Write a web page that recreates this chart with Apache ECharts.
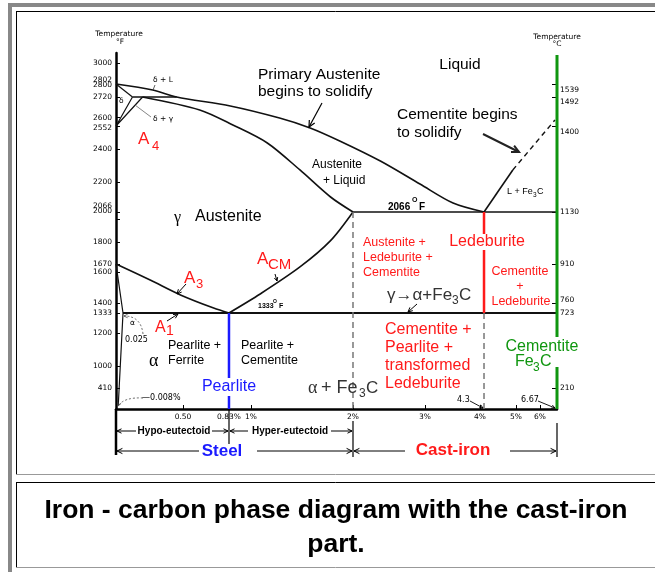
<!DOCTYPE html>
<html>
<head>
<meta charset="utf-8">
<script src="https://cdn.jsdelivr.net/npm/echarts@6/dist/echarts.min.js"></script>
<style>
  html, body { margin: 0; padding: 0; background: #fff; }
  #chart { width: 655px; height: 572px; }
</style>
</head>
<body>
<div id="chart"></div>
<script>
// ---- phase boundaries, carbon wt% / temperature °F ----
const liquidusC = [0, 0.26, 0.45, 0.84, 1.28, 1.58, 1.87, 2.38, 2.93, 3.51, 4.3];
const liquidusF = [2802, 2764, 2720, 2668, 2598, 2539, 2453, 2327, 2191, 2106, 2066];
const solidusC = [0.18, 0.62, 0.86, 1.16, 1.48, 1.78, 2.0];
const solidusF = [2720, 2645, 2558, 2440, 2273, 2133, 2066];
const deltaSolidusC = [0, 0.1];
const deltaSolidusF = [2802, 2720];
const deltaGammaC = [0.1, 0, 0.18];
const deltaGammaF = [2720, 2552, 2720];
const peritecticC = [0.1, 0.45];
const peritecticF = [2720, 2720];
const a3C = [0, 0.24, 0.48, 0.72, 0.83];
const a3F = [1670, 1548, 1452, 1366, 1333];
const acmC = [0.83, 1.09, 1.48, 1.78, 2.0];
const acmF = [1333, 1458, 1644, 1812, 2066];
const ferriteC = [0, 0.025, 0.008];
const ferriteF = [1670, 1333, 70];
const eutectoidC = [0.025, 6.67];
const eutectoidF = [1333, 1333];
const eutecticC = [2.0, 6.67];
const eutecticF = [2066, 2066];
const cementiteLiqC = [4.3, 4.93];
const cementiteLiqF = [2066, 2273];
const cementiteDashC = [4.93, 6.59];
const cementiteDashF = [2273, 2587];
const ledeburiteC = [4.3, 4.3];
const ledeburiteF = [2066, 1333];
const steelLimitC = [2.0, 2.0];
const steelLimitF = [2066, 0];
const eutecticBelowC = [4.3, 4.3];
const eutecticBelowF = [1333, 0];
const pearliteC = [0.83, 0.83];
const pearliteF = [1333, 0];
const fe3cC = [6.67, 6.67];
const fe3cF = [0, 3064];

// tick labels
const leftTicksF = [3000, 2802, 2800, 2720, 2600, 2552, 2400, 2200, 2066, 2000, 1800, 1670, 1600, 1400, 1333, 1200, 1000, 410];
const rightTicksC = [1539, 1492, 1400, 1130, 910, 760, 723, 210];
const carbonTicks = [0.5, 0.83, 1, 2, 3, 4, 5, 6];
const carbonTickLabels = ['0.50', '0.83%', '1%', '2%', '3%', '4%', '5%', '6%'];

// the original is drawn on an uneven scale: knots of that scale (0..100 of plot width / height)
const carbonKnots = [0, 0.025, 0.5, 0.83, 1, 2, 3, 4, 4.3, 5, 6, 6.67];
const carbonPos = [0, 1.59, 15.19, 25.62, 30.61, 53.74, 70.07, 82.54, 83.45, 90.70, 96.15, 100];
const tempKnots = [0, 410, 1000, 1200, 1333, 1400, 1600, 1670, 1800, 2066, 2200, 2400, 2552, 2720, 2802, 3000, 3080];
const tempPos = [0, 5.90, 12.08, 21.35, 26.97, 29.78, 38.48, 40.73, 46.91, 55.34, 63.76, 73.03, 79.49, 87.64, 91.29, 97.19, 100];

function interp(v, xs, ys) {
  for (let i = 1; i < xs.length; i++) {
    if (v <= xs[i]) return ys[i - 1] + (v - xs[i - 1]) / (xs[i] - xs[i - 1]) * (ys[i] - ys[i - 1]);
  }
  return ys[ys.length - 1];
}
const px = c => interp(c, carbonKnots, carbonPos);
const py = f => interp(f, tempKnots, tempPos);
const pts = (cs, fs) => cs.map((c, i) => [px(c), py(fs[i])]);
const key = v => v.toFixed(3);

const xLabelMap = {};
carbonTicks.forEach((c, i) => { xLabelMap[key(px(c))] = carbonTickLabels[i]; });
const leftLabelMap = {};
leftTicksF.forEach(f => { leftLabelMap[key(py(f))] = f; });
const rightLabelMap = {};
const rightVals = rightTicksC.map(c => { const v = py(c * 9 / 5 + 32); rightLabelMap[key(v)] = c; return v; });

// small vertical offsets of crowded tick labels (px, negative = up)
const leftNudge = {2802: -4, 2800: 1, 2552: 2, 2066: -6, 2000: -8};
const rightNudge = {1539: 6, 1492: 5, 1400: 6, 760: -3};
const tickFont = {fontSize: 7.5, fontFamily: 'DejaVu Sans', color: '#000'};
const rich = {};
for (let n = 1; n <= 8; n++) {
  rich['u' + n] = Object.assign({padding: [0, 0, 2 * n, 0]}, tickFont);
  rich['d' + n] = Object.assign({padding: [2 * n, 0, 0, 0]}, tickFont);
}
function nudged(lab, nudge) {
  const n = nudge[lab] || 0;
  if (!n) return String(lab);
  return '{' + (n < 0 ? 'u' : 'd') + Math.abs(n) + '|' + lab + '}';
}

const BLACK = '#111', RED = '#ff1a1a', BLUE = '#1a1aff', GREEN = '#0f960f', GRAY = '#777';

function curve(data, color, width, extra) {
  return Object.assign({
    type: 'line', data: data, symbol: 'none', silent: true, clip: false,
    lineStyle: {color: color, width: width}
  }, extra || {});
}

// ---- annotation helpers ----
function txt(s, x, y, size, color, o) {
  o = o || {};
  const st = {
    text: s, x: x, y: y, fill: color || '#000',
    fontSize: size, fontFamily: o.family || 'Liberation Sans', fontWeight: o.bold ? 'bold' : 'normal',
    align: o.align || 'left', textAlign: o.align || 'left',
    verticalAlign: 'middle', textVerticalAlign: 'middle'
  };
  if (o.bg) { st.backgroundColor = o.bg; st.padding = o.pad || [1, 2]; }
  return {type: 'text', z: 100, silent: true, style: st};
}
function seg(x1, y1, x2, y2, color, w, dash) {
  return {type: 'line', z: 100, silent: true, shape: {x1: x1, y1: y1, x2: x2, y2: y2},
    style: {stroke: color || '#000', lineWidth: w || 1, lineDash: dash || null}};
}
function head(x, y, ang, len, color, w) {
  const a1 = ang + Math.PI - 0.45, a2 = ang + Math.PI + 0.45;
  return {type: 'polyline', z: 100, silent: true,
    shape: {points: [[x + len * Math.cos(a1), y + len * Math.sin(a1)], [x, y], [x + len * Math.cos(a2), y + len * Math.sin(a2)]]},
    style: {stroke: color || '#000', lineWidth: w || 1, fill: null}};
}
function arrow(x1, y1, x2, y2, len, color, w) {
  return [seg(x1, y1, x2, y2, color, w), head(x2, y2, Math.atan2(y2 - y1, x2 - x1), len, color, w)];
}

const graphics = [
  // page frame
  {type: 'rect', z: 90, silent: true, shape: {x: 8, y: 3, width: 4, height: 569}, style: {fill: '#888'}},
  {type: 'rect', z: 90, silent: true, shape: {x: 8, y: 3, width: 647, height: 4}, style: {fill: '#888'}},
  seg(16, 11.5, 655, 11.5, '#000', 1),
  seg(16.5, 11, 16.5, 475, '#000', 1),
  seg(16, 474.5, 655, 474.5, '#999', 1),
  seg(16, 482.5, 655, 482.5, '#000', 1),
  seg(16.5, 482, 16.5, 568, '#000', 1),
  seg(16, 567.5, 655, 567.5, '#999', 1),
  txt('Iron - carbon phase diagram with the cast-iron', 336, 511, 26.5, '#000', {bold: true, align: 'center'}),
  txt('part.', 336, 545, 26.5, '#000', {bold: true, align: 'center'}),

  // axis titles
  txt('Temperature', 119, 34, 7.5, '#000', {align: 'center', family: 'DejaVu Sans'}),
  txt('°F', 120, 42, 7.5, '#000', {align: 'center', family: 'DejaVu Sans'}),
  txt('Temperature', 557, 37, 7.5, '#000', {align: 'center', family: 'DejaVu Sans'}),
  txt('°C', 557, 44, 7.5, '#000', {align: 'center', family: 'DejaVu Sans'}),

  // upper region
  txt('Primary Austenite', 258, 75, 15.5),
  txt('begins to solidify', 258, 92, 15.5),
  txt('Liquid', 460, 65, 15.5, '#000', {align: 'center'}),
  txt('Cementite begins', 397, 115, 15.5),
  txt('to solidify', 397, 133, 15.5),
  txt('Austenite', 312, 165, 12),
  txt('+ Liquid', 323, 181, 12),
  txt('2066', 388, 207, 10, '#000', {bold: true}),
  txt('O', 412, 200, 7, '#000', {bold: true}),
  txt('F', 419, 207, 10, '#000', {bold: true}),
  txt('L + Fe', 507, 192, 9),
  txt('3', 533, 195, 6.5),
  txt('C', 537, 192, 9),
  txt('A', 138, 139, 17, RED),
  txt('4', 152, 146, 13, RED),
  txt('γ', 174, 218, 16, '#000', {family: 'Liberation Serif'}),
  txt('Austenite', 195, 217, 16),
  txt('δ + L', 153, 80, 7.5, '#000', {family: 'DejaVu Sans'}),
  txt('δ', 119, 101, 7.5, '#000', {family: 'DejaVu Sans'}),
  txt('δ + γ', 153, 119, 7.5, '#000', {family: 'DejaVu Sans'}),
  seg(151, 117, 135, 105, '#666', 0.8),
  seg(155, 85, 153, 90, '#333', 0.8),

  // transformation lines
  txt('A', 184, 278, 17, RED),
  txt('3', 196, 284, 13, RED),
  txt('A', 257, 259, 17, RED),
  txt('CM', 268, 265, 15, RED),
  txt('1333', 258, 306, 7, '#000', {bold: true}),
  txt('O', 273, 302, 5, '#000', {bold: true}),
  txt('F', 279, 306, 7, '#000', {bold: true}),
  txt('A', 155, 328, 16, RED),
  txt('1', 166, 331, 14, RED),
  txt('α', 130, 323, 7.5, '#000', {family: 'DejaVu Sans'}),
  txt('0.025', 125, 340, 8, '#000', {family: 'DejaVu Sans'}),
  txt('—0.008%', 142, 398, 8, '#000', {family: 'DejaVu Sans'}),
  {type: 'bezierCurve', z: 100, silent: true, shape: {x1: 143, y1: 334, cpx1: 141, cpy1: 316, x2: 124, y2: 316},
    style: {stroke: '#444', lineWidth: 0.8, lineDash: [2, 2], fill: null}},
  head(124, 316, Math.PI, 4, '#444', 0.8),
  {type: 'bezierCurve', z: 100, silent: true, shape: {x1: 143, y1: 398, cpx1: 124, cpy1: 397, x2: 118, y2: 406},
    style: {stroke: '#444', lineWidth: 0.8, lineDash: [2, 2], fill: null}},
  head(118, 406, 2.0, 4, '#444', 0.8),

  // steel region
  txt('Pearlite +', 168, 346, 12.5),
  txt('Ferrite', 168, 361, 12.5),
  txt('α', 149, 361, 18, '#000', {family: 'Liberation Serif'}),
  txt('Pearlite +', 241, 346, 12.5),
  txt('Cementite', 241, 361, 12.5),
  txt('Pearlite', 229, 387, 16, BLUE, {align: 'center', bg: '#fff'}),
  txt('α', 308, 388, 18, '#333', {family: 'Liberation Serif'}),
  txt('+ Fe', 321, 388, 18, '#333'),
  txt('3', 359, 394, 12, '#333'),
  txt('C', 366, 388, 17, '#333'),

  // cast-iron region
  txt('Austenite +', 363, 243, 12.5, RED),
  txt('Ledeburite +', 363, 258, 12.5, RED),
  txt('Cementite', 363, 273, 12.5, RED),
  txt('Ledeburite', 487, 242, 16, RED, {align: 'center', bg: '#fff', pad: [0, 1]}),
  txt('Cementite', 520, 272, 12.5, RED, {align: 'center'}),
  txt('+', 520, 287, 12.5, RED, {align: 'center'}),
  txt('Ledeburite', 521, 302, 12.5, RED, {align: 'center'}),
  txt('γ→α+Fe', 387, 295, 17, '#333'),
  txt('3', 452, 301, 12, '#333'),
  txt('C', 459, 295, 17, '#333'),
  txt('Cementite +', 385, 330, 16, RED),
  txt('Pearlite +', 385, 348, 16, RED),
  txt('transformed', 385, 366, 16, RED),
  txt('Ledeburite', 385, 384, 16, RED),
  {type: 'rect', z: 95, silent: true, shape: {x: 553, y: 337, width: 8, height: 30}, style: {fill: '#fff'}},
  txt('Cementite', 542, 347, 16, GREEN, {align: 'center'}),
  txt('Fe', 515, 362, 16, GREEN),
  txt('3', 533, 368, 12, GREEN),
  txt('C', 540, 362, 16, GREEN),
  txt('4.3', 457, 400, 8, '#000', {family: 'DejaVu Sans'}),
  txt('6.67', 521, 400, 8, '#000', {family: 'DejaVu Sans'}),

  // left axis runs on below the diagram, and the dimension lines
  seg(116, 409, 116, 455, '#000', 2.5),
  seg(229, 410, 229, 444, '#000', 1.2),
  seg(353, 421, 353, 457, '#000', 1.2),
  seg(557, 423, 557, 457, '#000', 1.2),
  txt('Hypo-eutectoid', 174, 431, 10, '#000', {bold: true, align: 'center'}),
  txt('Hyper-eutectoid', 290, 431, 10, '#000', {bold: true, align: 'center'}),
  txt('Steel', 222, 451, 17, BLUE, {bold: true, align: 'center'}),
  txt('Cast-iron', 453, 450, 17, RED, {bold: true, align: 'center'})
];
graphics.push(
  ...arrow(322, 103, 309, 127, 7, '#000', 1.2),
  ...arrow(483, 134, 519, 152, 8, '#222', 2),
  ...arrow(186, 284, 177, 294, 5, '#000', 1),
  ...arrow(275, 274, 277, 281, 4, '#000', 1),
  ...arrow(167, 321, 178, 314, 5, '#000', 1),
  ...arrow(417, 304, 408, 312, 5, '#000', 1),
  ...arrow(470, 401, 483, 408, 4, '#000', 0.9),
  ...arrow(538, 401, 555, 408, 4, '#000', 0.9),
  ...arrow(136, 431, 117, 431, 5, '#000', 1),
  ...arrow(212, 431, 228, 431, 5, '#000', 1),
  ...arrow(248, 431, 230, 431, 5, '#000', 1),
  ...arrow(331, 431, 352, 431, 5, '#000', 1),
  ...arrow(199, 451, 117, 451, 6, '#000', 1),
  ...arrow(257, 451, 352, 451, 6, '#000', 1),
  ...arrow(405, 451, 354, 451, 6, '#000', 1),
  ...arrow(510, 451, 556, 451, 6, '#000', 1)
);

const chart = echarts.init(document.getElementById('chart'));
chart.setOption({
  animation: false,
  backgroundColor: '#fff',
  grid: {left: 116, right: 98, top: 53, bottom: 163, outerBoundsMode: 'none'},
  xAxis: {
    type: 'value', min: 0, max: 100,
    splitLine: {show: false},
    axisLine: {lineStyle: {color: '#000', width: 2.5}},
    axisTick: {inside: true, length: 4, customValues: carbonTicks.map(px), lineStyle: {color: '#000', width: 1}},
    axisLabel: Object.assign({customValues: carbonTicks.map(px), margin: 4,
      formatter: v => xLabelMap[key(v)] || ''}, tickFont)
  },
  yAxis: [{
    type: 'value', min: 0, max: 100, position: 'left',
    splitLine: {show: false},
    axisLine: {show: true, lineStyle: {color: '#000', width: 2.5}},
    axisTick: {inside: true, length: 4, customValues: leftTicksF.map(py), lineStyle: {color: '#000', width: 1}},
    axisLabel: Object.assign({customValues: leftTicksF.map(py), margin: 4, rich: rich,
      formatter: v => nudged(leftLabelMap[key(v)], leftNudge)}, tickFont)
  }, {
    type: 'value', min: 0, max: 100, position: 'right',
    splitLine: {show: false},
    axisLine: {show: false},
    axisTick: {show: true, inside: true, length: 5, customValues: rightVals, lineStyle: {color: '#000', width: 1}},
    axisLabel: Object.assign({customValues: rightVals, margin: 3, rich: rich,
      formatter: v => nudged(rightLabelMap[key(v)], rightNudge)}, tickFont)
  }],
  series: [
    curve(pts(liquidusC, liquidusF), BLACK, 1.6, {smooth: 0.3}),
    curve(pts(solidusC, solidusF), BLACK, 1.6, {smooth: 0.3}),
    curve(pts(deltaSolidusC, deltaSolidusF), BLACK, 1.2),
    curve(pts(deltaGammaC, deltaGammaF), BLACK, 1.2),
    curve(pts(peritecticC, peritecticF), BLACK, 1.4),
    curve(pts(a3C, a3F), BLACK, 1.6, {smooth: 0.3}),
    curve(pts(acmC, acmF), BLACK, 1.6, {smooth: 0.3}),
    curve(pts(ferriteC, ferriteF), BLACK, 1.2),
    curve(pts(eutectoidC, eutectoidF), BLACK, 2.2),
    curve(pts(eutecticC, eutecticF), BLACK, 1.6),
    curve(pts(cementiteLiqC, cementiteLiqF), BLACK, 1.6),
    curve(pts(cementiteDashC, cementiteDashF), BLACK, 1.4, {lineStyle: {color: BLACK, width: 1.4, type: [5, 4]}}),
    curve(pts(steelLimitC, steelLimitF), GRAY, 1.5, {lineStyle: {color: GRAY, width: 1.5, type: [6, 4]}}),
    curve(pts(eutecticBelowC, eutecticBelowF), GRAY, 1.5, {lineStyle: {color: GRAY, width: 1.5, type: [6, 4]}}),
    curve(pts(ledeburiteC, ledeburiteF), RED, 2.5),
    curve(pts(pearliteC, pearliteF), BLUE, 2.5),
    curve(pts(fe3cC, fe3cF), GREEN, 3)
  ],
  graphic: graphics
});
</script>
</body>
</html>
